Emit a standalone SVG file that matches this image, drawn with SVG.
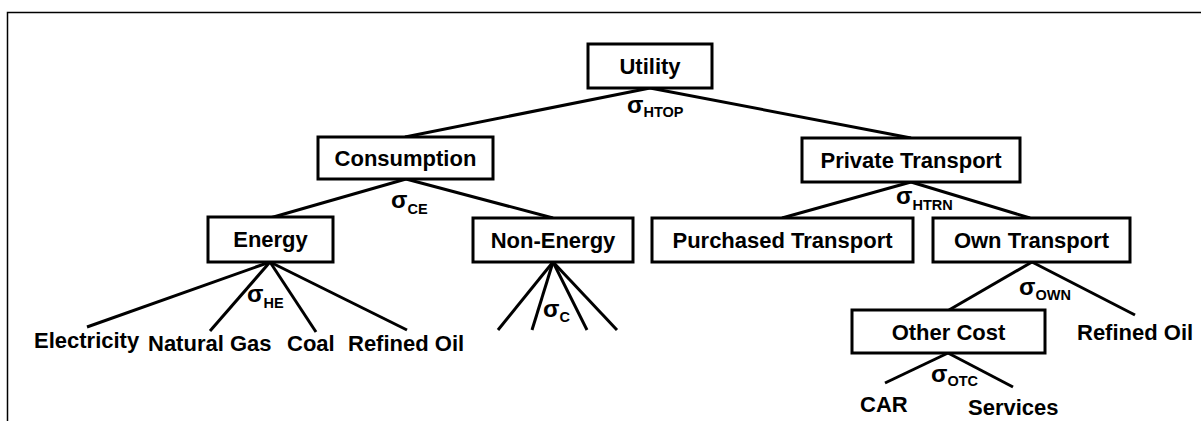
<svg xmlns="http://www.w3.org/2000/svg" width="1201" height="421" viewBox="0 0 1201 421">
<style>
.box{fill:#fff;stroke:#000;stroke-width:3}
.t{font-family:"Liberation Sans",Arial,sans-serif;font-weight:bold;font-size:22px;fill:#000}
.sg{font-family:"Liberation Sans",Arial,sans-serif;font-weight:bold;font-size:24px;fill:#000}
.sub{font-size:14.5px}
.ln{stroke:#000;stroke-width:3;fill:none;stroke-linecap:butt}
</style>
<rect x="0" y="0" width="1201" height="421" fill="#fff"/>
<rect x="7.5" y="12.5" width="1260" height="460" fill="none" stroke="#000" stroke-width="1.5"/>
<g id="connectors">
<line class="ln" x1="650" y1="88" x2="405" y2="137"/>
<line class="ln" x1="650" y1="88" x2="911" y2="138"/>
<line class="ln" x1="406" y1="179" x2="270" y2="218"/>
<line class="ln" x1="406" y1="179" x2="553" y2="218"/>
<line class="ln" x1="911" y1="182" x2="782" y2="218"/>
<line class="ln" x1="911" y1="182" x2="1030" y2="218"/>
<line class="ln" x1="270" y1="262" x2="87" y2="327"/>
<line class="ln" x1="270" y1="262" x2="210" y2="331"/>
<line class="ln" x1="270" y1="262" x2="316" y2="332"/>
<line class="ln" x1="270" y1="262" x2="407" y2="330"/>
<line class="ln" x1="553" y1="262" x2="498" y2="330"/>
<line class="ln" x1="553" y1="262" x2="532" y2="330"/>
<line class="ln" x1="553" y1="262" x2="587" y2="330"/>
<line class="ln" x1="553" y1="262" x2="617" y2="330"/>
<line class="ln" x1="1032" y1="262" x2="949" y2="310"/>
<line class="ln" x1="1032" y1="262" x2="1135" y2="315"/>
<line class="ln" x1="948" y1="353" x2="885" y2="383"/>
<line class="ln" x1="948" y1="353" x2="1013" y2="387"/>
</g>
<g id="sigmas">
<text class="sg" x="627" y="113">σ<tspan class="sub" dy="4">HTOP</tspan></text>
<text class="sg" x="391" y="208">σ<tspan class="sub" dy="6">CE</tspan></text>
<text class="sg" x="896" y="204">σ<tspan class="sub" dy="6">HTRN</tspan></text>
<text class="sg" x="247" y="302">σ<tspan class="sub" dy="6">HE</tspan></text>
<text class="sg" x="543" y="317">σ<tspan class="sub" dy="5">C</tspan></text>
<text class="sg" x="1019" y="295">σ<tspan class="sub" dy="5">OWN</tspan></text>
<text class="sg" x="931" y="382">σ<tspan class="sub" dy="4">OTC</tspan></text>
</g>
<g id="utility"><rect class="box" x="588" y="44" width="124" height="44"/><text class="t" x="650" y="74" text-anchor="middle">Utility</text></g>
<g id="consumption"><rect class="box" x="318" y="137" width="175" height="42"/><text class="t" x="405.5" y="166" text-anchor="middle">Consumption</text></g>
<g id="private-transport"><rect class="box" x="802" y="138" width="218" height="44"/><text class="t" x="911" y="168" text-anchor="middle">Private Transport</text></g>
<g id="energy"><rect class="box" x="208" y="217" width="125" height="45"/><text class="t" x="270.5" y="247" text-anchor="middle">Energy</text></g>
<g id="non-energy"><rect class="box" x="473" y="218" width="160" height="44"/><text class="t" x="553" y="248" text-anchor="middle">Non-Energy</text></g>
<g id="purchased-transport"><rect class="box" x="652" y="218" width="261" height="44"/><text class="t" x="782.5" y="248" text-anchor="middle">Purchased Transport</text></g>
<g id="own-transport"><rect class="box" x="933" y="218" width="197" height="44"/><text class="t" x="1031.5" y="248" text-anchor="middle">Own Transport</text></g>
<g id="other-cost"><rect class="box" x="852" y="310" width="193" height="43"/><text class="t" x="948.5" y="340" text-anchor="middle">Other Cost</text></g>
<g id="electricity"><text class="t" x="34" y="348">Electricity</text></g>
<g id="natural-gas"><text class="t" x="148" y="351">Natural Gas</text></g>
<g id="coal"><text class="t" x="287" y="351">Coal</text></g>
<g id="refined-oil-1"><text class="t" x="348" y="351">Refined Oil</text></g>
<g id="refined-oil-2"><text class="t" x="1077" y="340">Refined Oil</text></g>
<g id="car"><text class="t" x="860" y="412">CAR</text></g>
<g id="services"><text class="t" x="968" y="415">Services</text></g>
</svg>
